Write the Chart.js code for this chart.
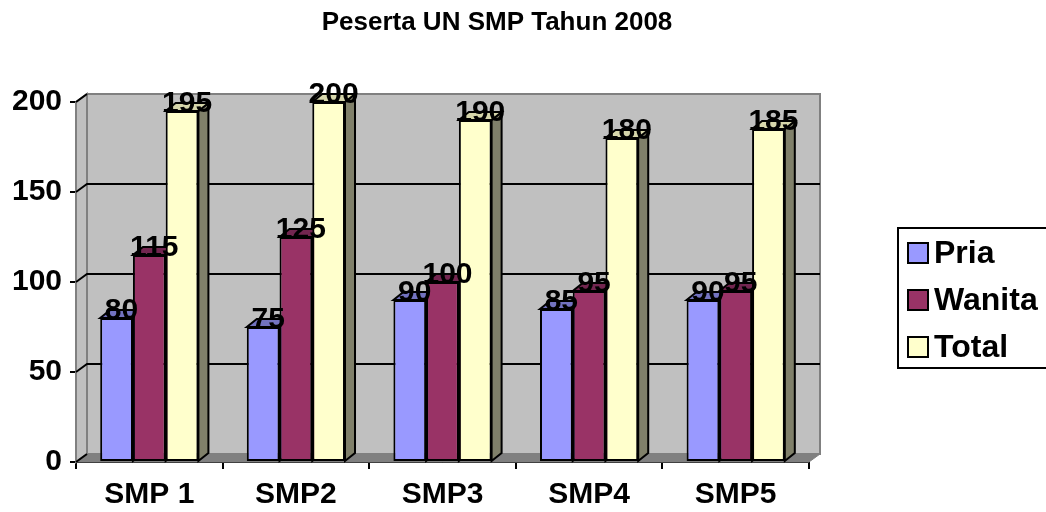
<!DOCTYPE html>
<html>
<head>
<meta charset="utf-8">
<title>Peserta UN SMP Tahun 2008</title>
<script src="https://cdn.jsdelivr.net/npm/chart.js@4.4.1/dist/chart.umd.min.js"></script>
<style>
  html, body { margin: 0; padding: 0; background: #ffffff; }
  #wrap { width: 1046px; height: 512px; }
</style>
</head>
<body>
<div id="wrap"><canvas id="myChart" width="1046" height="512"></canvas></div>
<script>
// data
var categories = ['SMP 1', 'SMP2', 'SMP3', 'SMP4', 'SMP5'];
var pria = [80, 75, 90, 85, 90];
var wanita = [115, 125, 100, 95, 95];
var total = [195, 200, 190, 180, 185];
var yTicks = [0, 50, 100, 150, 200];
var chartTitle = 'Peserta UN SMP Tahun 2008';

var FONT = '"Liberation Sans", Arial, sans-serif';

// colours: front, top, side
var seriesStyle = [
  { label: 'Pria', front: '#9999FF', top: '#7373C0', side: '#6B6BB3' },
  { label: 'Wanita', front: '#993366', top: '#732650', side: '#6B2447' },
  { label: 'Total', front: '#FFFFCC', top: '#D6D6AB', side: '#80806A' }
];

// depth of the walls and of the bars
var wallDx = 11, wallDy = 8;
var barDx = 10, barDy = 8;

function poly(ctx, pts, fill, stroke, lw) {
  ctx.beginPath();
  ctx.moveTo(pts[0][0], pts[0][1]);
  for (var i = 1; i < pts.length; i++) ctx.lineTo(pts[i][0], pts[i][1]);
  ctx.closePath();
  if (fill) { ctx.fillStyle = fill; ctx.fill(); }
  if (stroke) { ctx.strokeStyle = stroke; ctx.lineWidth = lw || 1; ctx.stroke(); }
}

// walls, floor, grid and the 3d sides of the bars
var threeD = {
  id: 'threeD',
  beforeDatasetsDraw: function (chart) {
    var ctx = chart.ctx;
    var a = chart.chartArea;
    var y = chart.scales.y;
    ctx.save();
    // back wall
    poly(ctx, [[a.left + wallDx, a.top - wallDy], [a.right + wallDx, a.top - wallDy],
      [a.right + wallDx, a.bottom - wallDy], [a.left + wallDx, a.bottom - wallDy]], '#C0C0C0', '#808080', 2);
    // left wall
    poly(ctx, [[a.left, a.top], [a.left + wallDx, a.top - wallDy],
      [a.left + wallDx, a.bottom - wallDy], [a.left, a.bottom]], '#C0C0C0', '#808080', 2);
    // floor
    poly(ctx, [[a.left, a.bottom], [a.left + wallDx, a.bottom - wallDy],
      [a.right + wallDx, a.bottom - wallDy], [a.right, a.bottom]], '#808080', '#808080', 1);

    // gridlines on back wall + diagonals on left wall
    ctx.strokeStyle = '#000000';
    ctx.lineWidth = 2;
    yTicks.forEach(function (v) {
      var py = y.getPixelForValue(v);
      ctx.beginPath();
      ctx.moveTo(a.left, py);
      ctx.lineTo(a.left + wallDx, py - wallDy);
      if (v > 0 && v < 200) ctx.lineTo(a.right + wallDx, py - wallDy);
      ctx.stroke();
    });

    // tops and sides of the bars, fronts get drawn over them
    for (var d = 0; d < chart.data.datasets.length; d++) {
      var meta = chart.getDatasetMeta(d);
      var st = seriesStyle[d];
      meta.data.forEach(function (bar) {
        var l = bar.x - bar.width / 2;
        var r = bar.x + bar.width / 2;
        poly(ctx, [[r, bar.y], [r + barDx, bar.y - barDy], [r + barDx, bar.base - barDy], [r, bar.base]], st.side, '#000000', 2);
        poly(ctx, [[l, bar.y], [l + barDx, bar.y - barDy], [r + barDx, bar.y - barDy], [r, bar.y]], st.top, '#000000', 2);
      });
    }
    ctx.restore();
  },
  afterDatasetsDraw: function (chart) {
    var ctx = chart.ctx;
    ctx.save();
    ctx.font = 'bold 30px ' + FONT;
    ctx.fillStyle = '#000000';
    ctx.textAlign = 'center';
    ctx.textBaseline = 'middle';
    for (var d = 0; d < chart.data.datasets.length; d++) {
      var meta = chart.getDatasetMeta(d);
      var vals = chart.data.datasets[d].data;
      meta.data.forEach(function (bar, i) {
        ctx.fillText(String(vals[i]), bar.x + 5, bar.y - 7);
      });
    }
    ctx.restore();
  },
  afterDraw: function (chart) {
    var ctx = chart.ctx;
    ctx.save();
    // title, centred on the whole picture like excel does
    ctx.font = 'bold 26px ' + FONT;
    ctx.fillStyle = '#000000';
    ctx.textAlign = 'center';
    ctx.textBaseline = 'middle';
    ctx.fillText(chartTitle, 497, 23);

    // legend with a frame
    ctx.strokeStyle = '#000000';
    ctx.lineWidth = 2;
    ctx.strokeRect(898, 228, 160, 140);
    ctx.font = 'bold 32px ' + FONT;
    ctx.textAlign = 'left';
    for (var d = 0; d < seriesStyle.length; d++) {
      var cy = 253 + d * 47;
      ctx.fillStyle = seriesStyle[d].front;
      ctx.fillRect(908, cy - 10, 20, 20);
      ctx.lineWidth = 2;
      ctx.strokeRect(908, cy - 10, 20, 20);
      ctx.fillStyle = '#000000';
      ctx.fillText(seriesStyle[d].label, 934, cy + 1);
    }
    ctx.restore();
  }
};

var datasets = [pria, wanita, total].map(function (vals, i) {
  return {
    label: seriesStyle[i].label,
    data: vals,
    backgroundColor: seriesStyle[i].front,
    borderColor: '#000000',
    borderWidth: 2,
    borderSkipped: false,
    categoryPercentage: 0.67,
    barPercentage: 1.0
  };
});

var config = {
  type: 'bar',
  data: { labels: categories, datasets: datasets },
  options: {
    responsive: false,
    animation: false,
    layout: { padding: { left: 12, right: 237, top: 102, bottom: 0 } },
    plugins: {
      legend: { display: false },
      tooltip: { enabled: false },
      title: { display: false }
    },
    scales: {
      x: {
        afterFit: function (axis) { axis.height = 50; },
        grid: { display: true, drawOnChartArea: false, drawTicks: true, tickLength: 7, color: '#000000', lineWidth: 2, offset: true },
        border: { display: true, color: '#000000', width: 2 },
        ticks: { color: '#000000', padding: 8, font: { family: FONT, size: 30, weight: 'bold' } }
      },
      y: {
        min: 0,
        max: 200,
        afterFit: function (axis) { axis.width = 64; },
        afterBuildTicks: function (axis) {
          axis.ticks = yTicks.map(function (v) { return { value: v }; });
        },
        grid: { display: true, drawOnChartArea: false, drawTicks: true, tickLength: 6, color: '#000000', lineWidth: 2 },
        border: { display: true, color: '#000000', width: 2 },
        ticks: { color: '#000000', padding: 8, font: { family: FONT, size: 30, weight: 'bold' } }
      }
    }
  },
  plugins: [threeD]
};

var myChart = new Chart(document.getElementById('myChart'), config);
</script>
</body>
</html>
